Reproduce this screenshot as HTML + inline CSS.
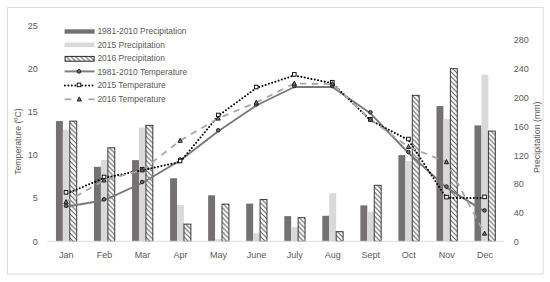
<!DOCTYPE html>
<html><head><meta charset="utf-8"><style>
html,body{margin:0;padding:0;background:#fff;}
body{width:550px;height:282px;overflow:hidden;font-family:"Liberation Sans",sans-serif;}
svg{display:block;}
</style></head><body>
<svg width="550" height="282" viewBox="0 0 550 282">
<defs>
<pattern id="hp" patternUnits="userSpaceOnUse" width="4.8" height="4.8">
<rect width="4.8" height="4.8" fill="#fff"/>
<path d="M-1.2,-1.2 L6,6 M-1.2,3.6 L1.2,6 M3.6,-1.2 L6,1.2" stroke="#5a5a5a" stroke-width="1.05"/>
</pattern>
</defs>
<rect x="0" y="0" width="550" height="282" fill="#fff"/>
<rect x="7.5" y="7.5" width="535.6" height="266.6" fill="none" stroke="#dcdcdc" stroke-width="1"/>
<rect x="55.95" y="121.10" width="6.93" height="120.20" fill="#767171"/>
<rect x="62.88" y="129.50" width="6.93" height="111.80" fill="#d9d9d9"/>
<rect x="69.81" y="121.10" width="6.93" height="120.20" fill="url(#hp)" stroke="#262626" stroke-width="0.9"/>
<rect x="94.00" y="166.80" width="6.93" height="74.50" fill="#767171"/>
<rect x="100.94" y="159.90" width="6.93" height="81.40" fill="#d9d9d9"/>
<rect x="107.86" y="147.80" width="6.93" height="93.50" fill="url(#hp)" stroke="#262626" stroke-width="0.9"/>
<rect x="132.05" y="160.10" width="6.93" height="81.20" fill="#767171"/>
<rect x="138.98" y="127.40" width="6.93" height="113.90" fill="#d9d9d9"/>
<rect x="145.91" y="125.30" width="6.93" height="116.00" fill="url(#hp)" stroke="#262626" stroke-width="0.9"/>
<rect x="170.10" y="178.20" width="6.93" height="63.10" fill="#767171"/>
<rect x="177.03" y="205.10" width="6.93" height="36.20" fill="#d9d9d9"/>
<rect x="183.96" y="224.10" width="6.93" height="17.20" fill="url(#hp)" stroke="#262626" stroke-width="0.9"/>
<rect x="208.15" y="195.30" width="6.93" height="46.00" fill="#767171"/>
<rect x="215.08" y="239.20" width="6.93" height="2.10" fill="#d9d9d9"/>
<rect x="222.01" y="204.10" width="6.93" height="37.20" fill="url(#hp)" stroke="#262626" stroke-width="0.9"/>
<rect x="246.21" y="203.60" width="6.93" height="37.70" fill="#767171"/>
<rect x="253.14" y="233.30" width="6.93" height="8.00" fill="#d9d9d9"/>
<rect x="260.06" y="199.60" width="6.93" height="41.70" fill="url(#hp)" stroke="#262626" stroke-width="0.9"/>
<rect x="284.25" y="216.10" width="6.93" height="25.20" fill="#767171"/>
<rect x="291.19" y="227.10" width="6.93" height="14.20" fill="#d9d9d9"/>
<rect x="298.12" y="217.70" width="6.93" height="23.60" fill="url(#hp)" stroke="#262626" stroke-width="0.9"/>
<rect x="322.30" y="215.80" width="6.93" height="25.50" fill="#767171"/>
<rect x="329.23" y="193.20" width="6.93" height="48.10" fill="#d9d9d9"/>
<rect x="336.16" y="231.70" width="6.93" height="9.60" fill="url(#hp)" stroke="#262626" stroke-width="0.9"/>
<rect x="360.36" y="205.40" width="6.93" height="35.90" fill="#767171"/>
<rect x="367.29" y="211.80" width="6.93" height="29.50" fill="#d9d9d9"/>
<rect x="374.22" y="185.30" width="6.93" height="56.00" fill="url(#hp)" stroke="#262626" stroke-width="0.9"/>
<rect x="398.40" y="155.10" width="6.93" height="86.20" fill="#767171"/>
<rect x="405.33" y="161.10" width="6.93" height="80.20" fill="#d9d9d9"/>
<rect x="412.26" y="95.30" width="6.93" height="146.00" fill="url(#hp)" stroke="#262626" stroke-width="0.9"/>
<rect x="436.46" y="106.10" width="6.93" height="135.20" fill="#767171"/>
<rect x="443.39" y="119.10" width="6.93" height="122.20" fill="#d9d9d9"/>
<rect x="450.32" y="68.70" width="6.93" height="172.60" fill="url(#hp)" stroke="#262626" stroke-width="0.9"/>
<rect x="474.50" y="125.40" width="6.93" height="115.90" fill="#767171"/>
<rect x="481.44" y="74.70" width="6.93" height="166.60" fill="#d9d9d9"/>
<rect x="488.37" y="131.10" width="6.93" height="110.20" fill="url(#hp)" stroke="#262626" stroke-width="0.9"/>
<line x1="47.3" y1="241.3" x2="504" y2="241.3" stroke="#dedede" stroke-width="1"/>
<polyline points="66.00,206.80 104.05,200.30 142.10,183.00 180.15,160.50 218.20,131.30 256.25,105.50 294.30,87.00 332.35,87.00 370.40,113.30 408.45,153.00 446.50,187.60 484.55,211.40" fill="none" stroke="#787878" stroke-width="1.9" stroke-linejoin="round"/>
<polyline points="66.00,194.00 104.05,178.00 142.10,170.20 180.15,162.00 218.20,116.00 256.25,88.00 294.30,75.40 332.35,83.20 370.40,120.30 408.45,140.00 446.50,198.10 484.55,197.90" fill="none" stroke="#000" stroke-width="2.05" stroke-dasharray="0 3.4" stroke-dashoffset="2.1" stroke-linecap="round" stroke-linejoin="round"/>
<polyline points="66.00,202.00 104.05,180.30 142.10,170.20 180.15,140.60 218.20,118.40 256.25,102.50 294.30,83.50 332.35,84.00 370.40,119.50 408.45,146.80 446.50,162.00 484.55,233.50" fill="none" stroke="#a6a6a6" stroke-width="1.8" stroke-dasharray="6.3 5.77" stroke-dashoffset="0.9"/>
<circle cx="66.00" cy="205.80" r="1.8" fill="#707070" stroke="#1a1a1a" stroke-width="0.95"/>
<circle cx="104.05" cy="199.30" r="1.8" fill="#707070" stroke="#1a1a1a" stroke-width="0.95"/>
<circle cx="142.10" cy="182.00" r="1.8" fill="#707070" stroke="#1a1a1a" stroke-width="0.95"/>
<circle cx="180.15" cy="159.50" r="1.8" fill="#707070" stroke="#1a1a1a" stroke-width="0.95"/>
<circle cx="218.20" cy="130.30" r="1.8" fill="#707070" stroke="#1a1a1a" stroke-width="0.95"/>
<circle cx="256.25" cy="104.50" r="1.8" fill="#707070" stroke="#1a1a1a" stroke-width="0.95"/>
<circle cx="294.30" cy="86.00" r="1.8" fill="#707070" stroke="#1a1a1a" stroke-width="0.95"/>
<circle cx="332.35" cy="86.00" r="1.8" fill="#707070" stroke="#1a1a1a" stroke-width="0.95"/>
<circle cx="370.40" cy="112.30" r="1.8" fill="#707070" stroke="#1a1a1a" stroke-width="0.95"/>
<circle cx="408.45" cy="152.00" r="1.8" fill="#707070" stroke="#1a1a1a" stroke-width="0.95"/>
<circle cx="446.50" cy="186.60" r="1.8" fill="#707070" stroke="#1a1a1a" stroke-width="0.95"/>
<circle cx="484.55" cy="210.40" r="1.8" fill="#707070" stroke="#1a1a1a" stroke-width="0.95"/>
<rect x="64.20" y="190.50" width="3.6" height="3.6" fill="#fff" stroke="#000" stroke-width="0.9"/>
<rect x="102.25" y="175.20" width="3.6" height="3.6" fill="#fff" stroke="#000" stroke-width="0.9"/>
<rect x="140.30" y="167.40" width="3.6" height="3.6" fill="#fff" stroke="#000" stroke-width="0.9"/>
<rect x="178.35" y="159.20" width="3.6" height="3.6" fill="#fff" stroke="#000" stroke-width="0.9"/>
<rect x="216.40" y="113.20" width="3.6" height="3.6" fill="#fff" stroke="#000" stroke-width="0.9"/>
<rect x="254.45" y="85.20" width="3.6" height="3.6" fill="#fff" stroke="#000" stroke-width="0.9"/>
<rect x="292.50" y="72.60" width="3.6" height="3.6" fill="#fff" stroke="#000" stroke-width="0.9"/>
<rect x="330.55" y="80.40" width="3.6" height="3.6" fill="#fff" stroke="#000" stroke-width="0.9"/>
<rect x="368.60" y="117.50" width="3.6" height="3.6" fill="#fff" stroke="#000" stroke-width="0.9"/>
<rect x="406.65" y="137.20" width="3.6" height="3.6" fill="#fff" stroke="#000" stroke-width="0.9"/>
<rect x="444.70" y="195.30" width="3.6" height="3.6" fill="#fff" stroke="#000" stroke-width="0.9"/>
<rect x="482.75" y="195.10" width="3.6" height="3.6" fill="#fff" stroke="#000" stroke-width="0.9"/>
<path d="M66.00,199.60 L68.10,203.70 L63.90,203.70 Z" fill="#7a7a7a" stroke="#1a1a1a" stroke-width="0.95" stroke-linejoin="round"/>
<path d="M104.05,177.90 L106.15,182.00 L101.95,182.00 Z" fill="#7a7a7a" stroke="#1a1a1a" stroke-width="0.95" stroke-linejoin="round"/>
<path d="M142.10,167.80 L144.20,171.90 L140.00,171.90 Z" fill="#7a7a7a" stroke="#1a1a1a" stroke-width="0.95" stroke-linejoin="round"/>
<path d="M180.15,138.20 L182.25,142.30 L178.05,142.30 Z" fill="#7a7a7a" stroke="#1a1a1a" stroke-width="0.95" stroke-linejoin="round"/>
<path d="M218.20,116.00 L220.30,120.10 L216.10,120.10 Z" fill="#7a7a7a" stroke="#1a1a1a" stroke-width="0.95" stroke-linejoin="round"/>
<path d="M256.25,100.10 L258.35,104.20 L254.15,104.20 Z" fill="#7a7a7a" stroke="#1a1a1a" stroke-width="0.95" stroke-linejoin="round"/>
<path d="M294.30,81.10 L296.40,85.20 L292.20,85.20 Z" fill="#7a7a7a" stroke="#1a1a1a" stroke-width="0.95" stroke-linejoin="round"/>
<path d="M332.35,81.60 L334.45,85.70 L330.25,85.70 Z" fill="#7a7a7a" stroke="#1a1a1a" stroke-width="0.95" stroke-linejoin="round"/>
<path d="M370.40,117.10 L372.50,121.20 L368.30,121.20 Z" fill="#7a7a7a" stroke="#1a1a1a" stroke-width="0.95" stroke-linejoin="round"/>
<path d="M408.45,144.40 L410.55,148.50 L406.35,148.50 Z" fill="#7a7a7a" stroke="#1a1a1a" stroke-width="0.95" stroke-linejoin="round"/>
<path d="M446.50,159.60 L448.60,163.70 L444.40,163.70 Z" fill="#7a7a7a" stroke="#1a1a1a" stroke-width="0.95" stroke-linejoin="round"/>
<path d="M484.55,231.10 L486.65,235.20 L482.45,235.20 Z" fill="#7a7a7a" stroke="#1a1a1a" stroke-width="0.95" stroke-linejoin="round"/>
<text x="37.8" y="244.50" text-anchor="end" font-size="9" fill="#595959" font-family="Liberation Sans, sans-serif">0</text>
<text x="37.8" y="201.34" text-anchor="end" font-size="9" fill="#595959" font-family="Liberation Sans, sans-serif">5</text>
<text x="37.8" y="158.18" text-anchor="end" font-size="9" fill="#595959" font-family="Liberation Sans, sans-serif">10</text>
<text x="37.8" y="115.02" text-anchor="end" font-size="9" fill="#595959" font-family="Liberation Sans, sans-serif">15</text>
<text x="37.8" y="71.86" text-anchor="end" font-size="9" fill="#595959" font-family="Liberation Sans, sans-serif">20</text>
<text x="37.8" y="28.70" text-anchor="end" font-size="9" fill="#595959" font-family="Liberation Sans, sans-serif">25</text>
<text x="513.8" y="245.00" font-size="9" fill="#595959" font-family="Liberation Sans, sans-serif">0</text>
<text x="513.8" y="216.17" font-size="9" fill="#595959" font-family="Liberation Sans, sans-serif">40</text>
<text x="513.8" y="187.34" font-size="9" fill="#595959" font-family="Liberation Sans, sans-serif">80</text>
<text x="513.8" y="158.51" font-size="9" fill="#595959" font-family="Liberation Sans, sans-serif">120</text>
<text x="513.8" y="129.68" font-size="9" fill="#595959" font-family="Liberation Sans, sans-serif">160</text>
<text x="513.8" y="100.85" font-size="9" fill="#595959" font-family="Liberation Sans, sans-serif">200</text>
<text x="513.8" y="72.02" font-size="9" fill="#595959" font-family="Liberation Sans, sans-serif">240</text>
<text x="513.8" y="43.19" font-size="9" fill="#595959" font-family="Liberation Sans, sans-serif">280</text>
<text x="66.35" y="258.4" text-anchor="middle" font-size="9" fill="#595959" font-family="Liberation Sans, sans-serif">Jan</text>
<text x="104.40" y="258.4" text-anchor="middle" font-size="9" fill="#595959" font-family="Liberation Sans, sans-serif">Feb</text>
<text x="142.45" y="258.4" text-anchor="middle" font-size="9" fill="#595959" font-family="Liberation Sans, sans-serif">Mar</text>
<text x="180.50" y="258.4" text-anchor="middle" font-size="9" fill="#595959" font-family="Liberation Sans, sans-serif">Apr</text>
<text x="218.55" y="258.4" text-anchor="middle" font-size="9" fill="#595959" font-family="Liberation Sans, sans-serif">May</text>
<text x="256.60" y="258.4" text-anchor="middle" font-size="9" fill="#595959" font-family="Liberation Sans, sans-serif">June</text>
<text x="294.65" y="258.4" text-anchor="middle" font-size="9" fill="#595959" font-family="Liberation Sans, sans-serif">July</text>
<text x="332.70" y="258.4" text-anchor="middle" font-size="9" fill="#595959" font-family="Liberation Sans, sans-serif">Aug</text>
<text x="370.75" y="258.4" text-anchor="middle" font-size="9" fill="#595959" font-family="Liberation Sans, sans-serif">Sept</text>
<text x="408.80" y="258.4" text-anchor="middle" font-size="9" fill="#595959" font-family="Liberation Sans, sans-serif">Oct</text>
<text x="446.85" y="258.4" text-anchor="middle" font-size="9" fill="#595959" font-family="Liberation Sans, sans-serif">Nov</text>
<text x="484.90" y="258.4" text-anchor="middle" font-size="9" fill="#595959" font-family="Liberation Sans, sans-serif">Dec</text>
<text transform="translate(21.1,141.6) rotate(-90)" text-anchor="middle" font-size="8.7" fill="#595959" font-family="Liberation Sans, sans-serif">Temperature (ºC)</text>
<text transform="translate(539.6,137.2) rotate(-90)" text-anchor="middle" font-size="8.8" fill="#595959" font-family="Liberation Sans, sans-serif">Precipitation (mm)</text>
<rect x="64.6" y="29.3" width="30.0" height="4.4" fill="#767171"/>
<rect x="64.6" y="42.5" width="30.0" height="4.6" fill="#d9d9d9"/>
<rect x="65.1" y="56.4" width="29.0" height="4.8" fill="url(#hp)" stroke="#262626" stroke-width="1"/>
<line x1="64.6" y1="71.4" x2="94.6" y2="71.4" stroke="#7f7f7f" stroke-width="2"/>
<circle cx="79.00" cy="71.40" r="1.8" fill="#707070" stroke="#1a1a1a" stroke-width="0.95"/>
<line x1="64.9" y1="85.5" x2="93.5" y2="85.5" stroke="#000" stroke-width="2" stroke-dasharray="0 3.46" stroke-linecap="round"/>
<rect x="77.20" y="83.10" width="3.6" height="3.6" fill="#fff" stroke="#000" stroke-width="0.9"/>
<line x1="64.6" y1="99.3" x2="71.3" y2="99.3" stroke="#a6a6a6" stroke-width="1.7"/>
<line x1="88.39999999999999" y1="99.3" x2="94.6" y2="99.3" stroke="#a6a6a6" stroke-width="1.7"/>
<path d="M79.30,96.90 L81.40,101.00 L77.20,101.00 Z" fill="#7a7a7a" stroke="#1a1a1a" stroke-width="0.95" stroke-linejoin="round"/>
<text x="97.4" y="33.60" font-size="8.45" fill="#595959" font-family="Liberation Sans, sans-serif">1981-2010 Precipitation</text>
<text x="97.4" y="47.80" font-size="8.45" fill="#595959" font-family="Liberation Sans, sans-serif">2015 Precipitation</text>
<text x="97.4" y="60.70" font-size="8.45" fill="#595959" font-family="Liberation Sans, sans-serif">2016 Precipitation</text>
<text x="97.4" y="75.20" font-size="8.45" fill="#595959" font-family="Liberation Sans, sans-serif">1981-2010 Temperature</text>
<text x="97.4" y="88.30" font-size="8.45" fill="#595959" font-family="Liberation Sans, sans-serif">2015 Temperature</text>
<text x="97.4" y="102.20" font-size="8.45" fill="#595959" font-family="Liberation Sans, sans-serif">2016 Temperature</text>
</svg>
</body></html>
